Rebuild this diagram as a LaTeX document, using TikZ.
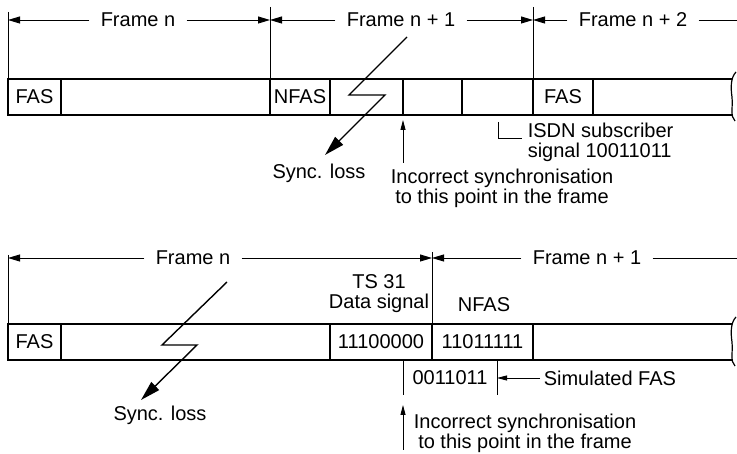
\documentclass[tikz,border=0pt]{standalone}
\usepackage{fontspec}
\setmainfont{Liberation Sans}
\usetikzlibrary{arrows.meta}

\begin{document}
\begin{tikzpicture}[x=1pt,y=-1pt,line width=0.9pt,
    font=\fontsize{20}{20}\selectfont,
    cell/.style={draw,line width=1.4pt,minimum height=36pt,inner sep=0pt,outer sep=0pt},
    framelbl/.style={inner xsep=11pt},
    dim/.style={-{Triangle[length=12pt,width=7pt]}},
    bolt/.style={line width=1.4pt,-{Triangle[length=20pt,width=11pt]}},
    tick/.style={-{Triangle[length=10pt,width=5pt]}}]
  \useasboundingbox (0,0) rectangle (737,454);

  % upper frame sequence
  \node[cell,minimum width=53pt]  (fasA)  at (34.5,97)  {FAS};
  \node[cell,minimum width=209pt] (datA)  at (165.5,97) {};
  \node[cell,minimum width=60pt]  (nfasA) at (300,97)   {NFAS};
  \node[cell,minimum width=73pt]  (c1A)   at (366.5,97) {};
  \node[cell,minimum width=59pt]  (c2A)   at (432.5,97) {};
  \node[cell,minimum width=71pt]  (c3A)   at (497.5,97) {};
  \node[cell,minimum width=60pt]  (fasB)  at (563,97)   {FAS};
  \coordinate (endA1) at (732,79);
  \coordinate (endA2) at (732,115);
  \draw[line width=1.4pt] (fasB.north east) -- (endA1);
  \draw[line width=1.4pt] (fasB.south east) -- (endA2);
  \draw[line width=1.2pt] (736,72) .. controls (730,78) and (731,90) .. (732,97)
                          .. controls (733,108) and (730,116) .. (735,121);

  \coordinate (tA0) at (8,12);
  \coordinate (tA1) at (270,7);
  \coordinate (tA2) at (533,7);
  \draw (tA0) -- (fasA.north west);
  \draw (tA1) -- (nfasA.north west);
  \draw (tA2) -- (fasB.north west);

  \node[framelbl] (frA0) at (138,20) {Frame n};
  \node[framelbl] (frA1) at (401,20) {Frame n + 1};
  \node[framelbl] (frA2) at (633,20) {Frame n + 2};
  \coordinate (edgeA) at (737,20);
  \draw[dim] (frA0.west) -- (frA0.west -| tA0);
  \draw[dim] (frA0.east) -- (frA0.east -| tA1);
  \draw[dim] (frA1.west) -- (frA1.west -| tA1);
  \draw[dim] (frA1.east) -- (frA1.east -| tA2);
  \draw[dim] (frA2.west) -- (frA2.west -| tA2);
  \draw (frA2.east) -- (edgeA);

  \coordinate (bA0) at (407,37);
  \coordinate (bA1) at (349,95);
  \coordinate (bA2) at (385,95);
  \coordinate (tipA) at (325,155);
  \draw[bolt] (bA0) -- (bA1) -- (bA2) -- (tipA);
  \node (lossA) at (319,173) {Sync. loss};

  \coordinate (upA0) at (403,163);
  \draw[tick,shorten >=5pt] (upA0) -- (c2A.south west);
  \node[align=center] (incA) at (502,188) {Incorrect synchronisation\\to this point in the frame};

  \coordinate (isA0) at (498,122);
  \coordinate (isA1) at (522,138);
  \draw (isA0) |- (isA1);
  \node[align=left,anchor=west] (isdn) at (524,142) {ISDN subscriber\\signal 10011011};

  % lower frame sequence
  \node[cell,minimum width=53pt]  (fasC) at (34.5,342)  {FAS};
  \node[cell,minimum width=269pt] (datC) at (195.5,342) {};
  \node[cell,minimum width=102pt] (tsC)  at (381,342)   {11100000};
  \node[cell,minimum width=101pt] (nfC)  at (482.5,342) {11011111};
  \coordinate (endC1) at (732,324);
  \coordinate (endC2) at (732,360);
  \draw[line width=1.4pt] (nfC.north east) -- (endC1);
  \draw[line width=1.4pt] (nfC.south east) -- (endC2);
  \draw[line width=1.2pt] (736,317) .. controls (730,323) and (731,335) .. (732,342)
                          .. controls (733,353) and (730,361) .. (735,366);

  \coordinate (tC0) at (8,255);
  \coordinate (tC1) at (432,252);
  \draw (tC0) -- (fasC.north west);
  \draw (tC1) -- (nfC.north west);

  \node[framelbl] (frC0) at (193,258) {Frame n};
  \node[framelbl] (frC1) at (587,258) {Frame n + 1};
  \coordinate (edgeC) at (737,258);
  \draw[dim] (frC0.west) -- (frC0.west -| tC0);
  \draw[dim] (frC0.east) -- (frC0.east -| tC1);
  \draw[dim] (frC1.west) -- (frC1.west -| tC1);
  \draw (frC1.east) -- (edgeC);

  \node[align=center] (tsl) at (379,294) {TS 31\\Data signal};
  \node (nfl) at (484,305) {NFAS};

  \coordinate (bC0) at (227,282);
  \coordinate (bC1) at (162,345);
  \coordinate (bC2) at (197,345);
  \coordinate (tipC) at (141,400);
  \draw[bolt] (bC0) -- (bC1) -- (bC2) -- (tipC);
  \node (lossC) at (160,415) {Sync. loss};

  \coordinate (mk0) at (403,360);
  \coordinate (mk1) at (403,395);
  \coordinate (mk2) at (497,360);
  \coordinate (mk3) at (497,395);
  \draw (mk0) -- (mk1);
  \draw (mk2) -- (mk3);
  \node (simC) at (450,378) {0011011};
  \node[anchor=west] (simT) at (540,378) {Simulated FAS};
  \draw[tick] (simT.west) -- (simT.west -| mk2);

  \coordinate (upC0) at (403,450);
  \coordinate (upC1) at (403,405);
  \draw[tick] (upC0) -- (upC1);
  \node[align=center] (incC) at (525,433) {Incorrect synchronisation\\to this point in the frame};
\end{tikzpicture}
\end{document}
